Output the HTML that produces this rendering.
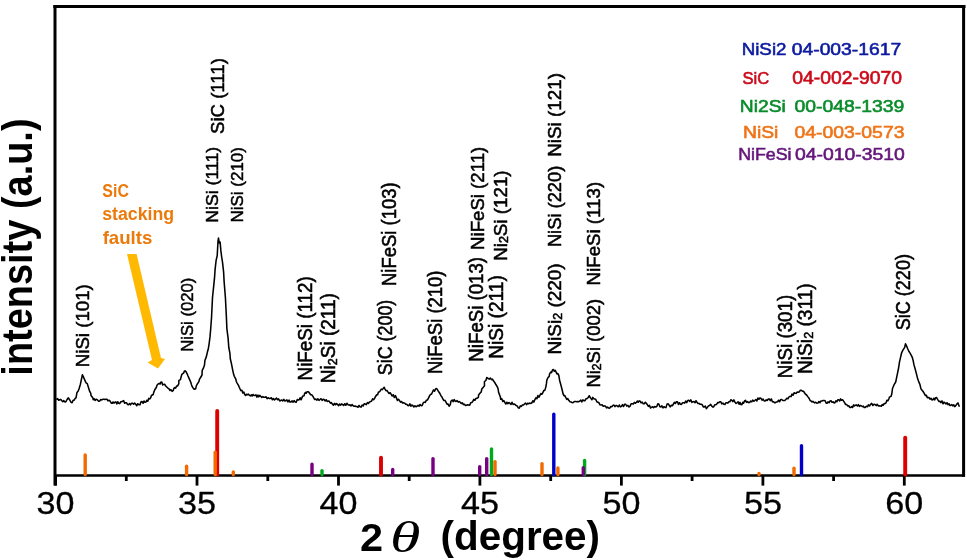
<!DOCTYPE html>
<html><head><meta charset="utf-8"><style>html,body{margin:0;padding:0;background:#fff;}
body{width:967px;height:560px;overflow:hidden;position:relative;}
svg{position:absolute;left:0;top:0;display:block;will-change:transform;}
text{font-family:"Liberation Sans",sans-serif;}
.tl{font-size:30.5px;fill:#000;stroke:#000;stroke-width:0.3px;}
.lb{font-size:17.5px;fill:#000;stroke:#000;stroke-width:0.5px;}
.lg{font-size:17.5px;stroke-width:0.6px;}
.yl{font-size:38px;font-weight:bold;fill:#000;}
.xl{font-size:39px;font-weight:bold;fill:#000;}
.th{font-family:"Liberation Serif",serif;font-style:italic;font-size:42px;fill:#000;}
.sf{font-size:18.3px;font-weight:bold;fill:#eb7a0a;}
</style></head><body>
<svg width="967" height="560" viewBox="0 0 967 560">
<!-- frame -->
<line x1="53.3" y1="6.5" x2="965.5" y2="6.5" stroke="#000" stroke-width="3"/>
<line x1="55" y1="5" x2="55" y2="485.6" stroke="#000" stroke-width="3"/>
<line x1="963.6" y1="5" x2="963.6" y2="476.8" stroke="#000" stroke-width="3"/>
<line x1="55" y1="475.5" x2="965" y2="475.5" stroke="#000" stroke-width="2.6"/>
<line x1="55.6" y1="475" x2="55.6" y2="485.6" stroke="#000" stroke-width="2.8"/>
<line x1="197.0" y1="475" x2="197.0" y2="485.6" stroke="#000" stroke-width="2.8"/>
<line x1="338.5" y1="475" x2="338.5" y2="485.6" stroke="#000" stroke-width="2.8"/>
<line x1="479.9" y1="475" x2="479.9" y2="485.6" stroke="#000" stroke-width="2.8"/>
<line x1="621.4" y1="475" x2="621.4" y2="485.6" stroke="#000" stroke-width="2.8"/>
<line x1="762.9" y1="475" x2="762.9" y2="485.6" stroke="#000" stroke-width="2.8"/>
<line x1="904.3" y1="475" x2="904.3" y2="485.6" stroke="#000" stroke-width="2.8"/>
<line x1="126.3" y1="475" x2="126.3" y2="481" stroke="#000" stroke-width="2.8"/>
<line x1="267.8" y1="475" x2="267.8" y2="481" stroke="#000" stroke-width="2.8"/>
<line x1="409.2" y1="475" x2="409.2" y2="481" stroke="#000" stroke-width="2.8"/>
<line x1="550.7" y1="475" x2="550.7" y2="481" stroke="#000" stroke-width="2.8"/>
<line x1="692.1" y1="475" x2="692.1" y2="481" stroke="#000" stroke-width="2.8"/>
<line x1="833.6" y1="475" x2="833.6" y2="481" stroke="#000" stroke-width="2.8"/>
<line x1="85.2" y1="474.5" x2="85.2" y2="455.0" stroke="#f26a00" stroke-width="3.4" stroke-linecap="round"/>
<line x1="186.6" y1="474.5" x2="186.6" y2="466.3" stroke="#f26a00" stroke-width="3.4" stroke-linecap="round"/>
<line x1="217.2" y1="474.5" x2="217.2" y2="410.9" stroke="#dc0000" stroke-width="3.9" stroke-linecap="round"/>
<line x1="215.2" y1="474.5" x2="215.2" y2="452.3" stroke="#f26a00" stroke-width="3.4" stroke-linecap="round"/>
<line x1="233.3" y1="474.5" x2="233.3" y2="471.9" stroke="#f26a00" stroke-width="3.4" stroke-linecap="round"/>
<line x1="312.0" y1="474.5" x2="312.0" y2="464.1" stroke="#780082" stroke-width="3.4" stroke-linecap="round"/>
<line x1="322.0" y1="474.5" x2="322.0" y2="470.6" stroke="#00aa1e" stroke-width="3.4" stroke-linecap="round"/>
<line x1="381.0" y1="474.5" x2="381.0" y2="457.6" stroke="#dc0000" stroke-width="3.9" stroke-linecap="round"/>
<line x1="392.7" y1="474.5" x2="392.7" y2="469.4" stroke="#780082" stroke-width="3.4" stroke-linecap="round"/>
<line x1="433.0" y1="474.5" x2="433.0" y2="458.6" stroke="#780082" stroke-width="3.4" stroke-linecap="round"/>
<line x1="479.7" y1="474.5" x2="479.7" y2="466.6" stroke="#780082" stroke-width="3.4" stroke-linecap="round"/>
<line x1="486.7" y1="474.5" x2="486.7" y2="458.6" stroke="#780082" stroke-width="3.4" stroke-linecap="round"/>
<line x1="491.5" y1="474.5" x2="491.5" y2="449.0" stroke="#00aa1e" stroke-width="3.4" stroke-linecap="round"/>
<line x1="495.0" y1="474.5" x2="495.0" y2="461.6" stroke="#f26a00" stroke-width="3.4" stroke-linecap="round"/>
<line x1="542.0" y1="474.5" x2="542.0" y2="463.6" stroke="#f26a00" stroke-width="3.4" stroke-linecap="round"/>
<line x1="553.8" y1="474.5" x2="553.8" y2="414.2" stroke="#0000c8" stroke-width="3.4" stroke-linecap="round"/>
<line x1="557.9" y1="474.5" x2="557.9" y2="468.0" stroke="#f26a00" stroke-width="3.4" stroke-linecap="round"/>
<line x1="584.6" y1="474.5" x2="584.6" y2="460.5" stroke="#00aa1e" stroke-width="3.4" stroke-linecap="round"/>
<line x1="583.3" y1="474.5" x2="583.3" y2="467.6" stroke="#780082" stroke-width="3.4" stroke-linecap="round"/>
<line x1="759.0" y1="474.5" x2="759.0" y2="473.5" stroke="#f26a00" stroke-width="3.4" stroke-linecap="round"/>
<line x1="794.0" y1="474.5" x2="794.0" y2="468.2" stroke="#f26a00" stroke-width="3.4" stroke-linecap="round"/>
<line x1="801.5" y1="474.5" x2="801.5" y2="445.7" stroke="#0000c8" stroke-width="3.4" stroke-linecap="round"/>
<line x1="905.2" y1="474.5" x2="905.2" y2="437.6" stroke="#dc0000" stroke-width="3.9" stroke-linecap="round"/>
<polyline points="56.4,399.7 57.5,398.5 58.7,400.2 59.8,399.7 60.8,399.4 61.8,400.7 62.8,401.7 63.7,400.6 64.7,401.7 65.5,401.9 66.2,401.2 67.1,399.5 68.2,397.8 69.6,399.7 70.8,402.0 72.1,402.7 73.1,400.2 74.0,400.3 75.0,398.7 76.0,397.8 77.0,392.4 78.2,390.9 79.0,389.0 80.4,384.2 81.4,379.5 82.4,374.7 83.4,376.9 84.8,380.1 86.0,382.8 87.3,383.6 88.3,387.1 89.7,391.4 90.8,393.4 91.0,395.4 92.8,397.7 93.2,399.7 94.2,398.7 95.1,400.5 96.1,399.3 97.3,399.8 98.6,401.2 99.7,401.0 100.8,399.5 101.9,399.9 103.0,399.3 104.0,399.2 104.9,399.5 105.9,399.3 106.9,399.2 107.9,400.9 108.9,400.2 110.1,401.1 111.3,403.2 112.2,403.3 113.0,402.0 113.9,403.1 114.8,402.2 115.8,401.9 116.8,404.0 117.7,401.8 118.7,403.2 119.7,403.6 120.7,401.8 121.6,401.7 122.6,401.2 123.6,400.6 124.6,403.3 125.6,402.7 126.6,402.8 127.5,404.4 128.5,404.7 129.5,403.6 130.5,404.9 131.5,403.2 132.5,403.2 133.6,404.3 134.6,403.0 135.7,404.3 136.8,405.7 137.8,403.7 138.9,404.8 140.0,404.8 141.0,401.8 142.1,401.6 143.1,403.3 144.0,401.0 144.9,402.3 145.9,402.1 146.9,400.2 147.8,401.2 148.8,398.4 149.7,398.9 150.7,397.8 151.4,395.5 153.2,394.5 153.9,391.9 154.9,389.5 156.3,387.5 157.1,385.0 158.2,384.0 159.3,383.4 160.2,384.0 161.0,382.0 161.9,382.3 162.7,384.9 163.5,384.4 164.6,384.2 165.7,386.0 166.8,387.0 167.8,388.1 168.9,388.7 170.0,390.5 171.0,389.7 172.1,391.4 173.3,390.4 173.7,388.7 174.6,387.6 175.6,388.1 176.6,386.1 177.5,386.0 178.8,383.8 178.9,380.4 180.5,379.6 181.2,376.4 181.9,374.3 183.7,372.9 184.4,371.1 185.2,370.9 186.0,371.6 187.5,374.7 187.8,375.5 189.2,378.6 190.7,382.1 191.4,384.4 192.1,386.4 193.5,388.7 194.6,389.3 195.7,388.7 196.4,385.6 197.8,383.2 198.9,381.6 199.5,379.2 200.6,377.5 202.0,375.0 202.2,370.4 203.4,368.2 204.5,365.1 204.9,360.5 206.3,356.9 207.3,352.5 208.4,348.2 209.1,343.8 210.0,336.9 210.6,330.0 211.5,318.0 212.5,297.5 213.5,287.9 214.5,278.2 215.1,269.4 216.1,260.5 217.2,255.7 218.0,241.2 218.5,238.0 219.3,242.9 220.1,242.0 220.9,250.9 221.6,256.5 222.5,262.1 223.6,271.8 224.1,281.4 225.4,297.5 226.3,315.0 226.9,328.8 228.1,338.1 228.8,347.5 229.9,353.1 230.3,358.8 231.6,364.4 232.5,369.1 233.5,373.8 234.3,376.3 235.7,378.8 236.3,381.3 236.8,382.6 238.5,385.4 239.0,386.6 240.0,388.8 240.9,390.6 241.9,390.2 242.8,392.9 243.8,392.1 244.7,394.4 245.6,395.5 246.6,394.3 247.5,394.8 248.5,394.1 249.4,395.4 250.3,395.9 251.3,394.8 252.2,396.0 253.1,394.5 254.1,395.5 255.0,395.4 255.9,394.8 256.9,397.1 257.9,395.0 258.8,396.9 259.8,395.3 260.7,396.3 261.8,397.4 262.9,396.6 263.9,397.3 265.0,397.2 266.1,396.8 267.1,398.7 268.2,397.7 269.2,398.5 270.3,398.4 271.3,397.7 272.4,399.8 273.4,398.6 274.5,400.0 275.5,399.0 276.5,398.1 277.6,399.7 278.6,398.9 279.7,401.0 280.7,400.5 281.7,400.0 282.8,400.9 283.8,399.3 284.9,401.0 285.9,400.5 286.9,399.9 287.9,402.0 289.0,400.0 290.0,402.1 291.0,402.0 292.1,400.9 293.1,402.2 294.1,400.6 295.2,402.0 296.2,402.3 297.3,399.5 298.3,400.0 299.2,399.8 300.1,397.7 301.0,399.8 301.9,397.9 302.5,396.2 304.1,395.7 304.5,393.8 305.4,392.4 306.2,393.3 307.1,391.7 308.4,391.7 309.6,393.3 310.6,394.7 311.7,394.7 312.7,395.9 314.0,398.4 314.8,399.5 315.8,399.0 316.9,400.1 317.9,398.8 319.0,400.4 320.0,399.5 321.0,398.7 322.1,400.4 323.1,399.2 324.1,399.5 325.2,401.0 326.2,399.7 327.2,401.4 328.3,401.0 329.3,401.3 330.4,403.2 331.4,402.6 332.4,404.1 333.4,405.1 334.5,403.3 335.5,404.8 336.6,403.6 337.6,404.6 338.6,405.7 339.6,404.0 340.7,405.1 341.7,403.9 342.7,404.6 343.7,405.5 344.8,403.7 345.8,405.3 346.9,403.3 347.9,404.6 348.9,405.2 350.0,404.8 351.0,406.0 352.1,404.6 353.1,405.7 354.1,406.2 355.1,406.0 356.1,406.6 357.0,406.5 358.0,407.3 359.0,405.5 360.0,406.7 361.1,407.1 362.1,405.0 363.2,406.0 364.2,403.7 365.3,404.1 366.3,404.7 367.4,402.5 368.4,403.4 369.5,402.1 370.5,401.5 371.5,401.3 372.6,398.8 373.6,399.8 374.6,398.4 375.4,396.7 376.7,394.8 377.6,394.8 378.5,391.9 379.4,391.9 380.3,390.7 381.3,389.1 382.4,389.6 383.4,388.1 384.2,387.3 385.0,389.1 386.0,390.7 387.1,390.6 388.1,392.2 389.1,393.5 390.2,392.7 391.2,394.3 392.2,396.0 393.3,394.7 394.3,397.5 395.4,395.6 396.4,397.9 397.4,400.5 398.4,399.2 399.5,400.6 400.5,402.1 401.5,401.5 402.6,403.0 403.6,402.7 404.6,403.1 405.7,404.3 406.7,404.2 407.8,405.6 408.8,405.7 409.8,403.8 410.9,406.2 411.9,405.0 412.9,405.7 413.9,406.9 414.9,405.8 416.0,406.7 417.0,406.2 418.1,405.3 419.1,406.2 420.1,404.5 421.2,405.7 422.2,405.4 423.3,402.7 424.3,402.1 425.3,402.5 426.4,400.2 427.4,400.0 428.6,397.9 429.5,395.9 430.5,394.5 431.6,394.0 432.6,391.7 433.6,389.9 434.6,391.2 435.7,388.8 436.7,388.6 438.0,390.7 438.3,391.2 439.8,393.3 441.1,396.0 441.7,396.6 442.9,399.0 443.9,400.5 445.0,400.4 446.0,402.1 447.0,404.3 448.1,404.1 449.1,406.2 450.3,404.6 450.9,401.3 452.2,400.0 453.1,401.7 454.1,399.5 455.0,401.0 456.1,401.4 457.1,400.6 458.2,402.1 459.2,401.5 460.3,402.4 461.3,403.5 462.4,402.8 463.4,404.6 464.5,404.2 465.5,405.5 466.5,405.3 467.6,404.8 468.6,405.0 469.7,405.2 470.7,402.8 471.8,402.6 472.8,401.4 473.8,399.4 474.9,400.3 475.9,398.5 476.9,398.3 478.4,397.3 478.6,395.0 480.0,393.1 481.2,392.0 481.8,389.0 483.1,387.4 484.5,385.8 484.4,381.8 486.0,380.3 486.7,377.6 487.6,377.9 488.4,378.8 489.3,379.1 490.3,378.0 491.4,379.6 492.4,379.1 493.1,380.3 494.7,382.5 495.5,383.8 496.2,385.0 497.6,387.4 498.1,389.0 498.6,392.4 500.3,396.7 500.7,399.3 501.7,398.6 502.8,401.5 503.8,400.6 504.8,402.4 505.8,404.0 506.9,402.2 507.9,403.7 509.0,402.5 510.0,403.4 511.0,404.4 512.0,402.3 513.1,404.5 514.1,404.0 515.1,404.5 516.2,405.6 517.2,405.9 518.3,408.0 519.3,408.1 520.3,405.9 521.4,406.4 522.4,404.9 523.5,405.0 524.5,404.0 525.5,403.1 526.6,404.6 527.6,403.3 528.6,403.7 529.7,403.1 530.7,403.4 531.7,403.1 532.8,400.7 533.8,402.1 534.8,399.8 535.8,397.8 536.9,398.7 537.9,395.6 539.0,397.2 540.0,395.2 540.9,393.6 541.8,394.3 542.7,393.0 543.8,390.4 544.8,390.4 545.8,387.1 546.4,383.9 546.8,380.3 548.0,377.5 549.2,376.4 549.6,373.8 550.7,372.1 551.6,372.6 552.5,370.0 553.4,369.5 554.3,371.3 555.2,370.3 556.1,372.1 557.0,373.9 557.9,373.6 558.8,375.4 559.6,380.2 560.9,385.0 562.0,389.3 563.0,393.6 563.9,395.7 564.8,395.6 565.7,397.3 566.8,399.5 567.8,398.5 568.9,400.6 570.0,401.8 571.1,402.0 572.2,402.7 573.3,402.5 574.3,401.5 575.4,401.6 576.5,401.8 577.5,401.5 578.6,401.7 579.7,401.1 580.8,400.1 581.8,402.0 582.9,399.9 583.9,400.6 585.0,400.6 586.1,398.7 587.2,398.4 588.2,397.5 589.3,395.7 589.9,397.0 590.9,398.4 591.9,399.7 592.8,397.4 593.8,398.7 594.7,398.9 595.8,399.5 596.8,401.7 597.9,402.2 599.0,402.8 600.0,404.8 601.1,405.0 602.1,404.8 603.2,406.2 604.3,405.9 605.4,406.1 606.5,407.9 607.5,407.1 608.6,408.1 609.7,408.2 610.8,406.5 611.8,406.7 612.9,405.4 614.0,405.1 615.0,406.6 616.1,405.4 617.2,405.9 618.3,406.8 619.4,405.0 620.4,406.9 621.5,406.4 622.5,404.6 623.6,406.5 624.7,404.2 625.7,404.3 626.8,406.1 627.9,405.4 629.0,407.0 630.1,406.1 631.1,403.8 632.2,403.8 633.3,404.0 634.4,402.3 635.4,403.3 636.5,402.2 637.4,401.1 638.2,402.3 639.1,400.9 640.0,401.1 641.1,402.9 642.2,402.1 643.3,403.8 644.3,403.8 645.3,402.2 646.3,403.3 647.4,404.8 648.4,406.4 649.5,405.3 650.5,408.0 651.5,407.4 652.5,406.7 653.6,407.6 654.7,406.6 655.7,406.9 656.8,406.5 657.8,403.8 658.8,403.9 659.9,406.8 660.9,406.9 661.9,405.9 663.0,407.9 664.0,406.7 665.0,407.4 666.0,407.6 667.1,403.9 668.1,403.8 669.2,405.3 670.2,406.9 671.2,405.3 672.3,405.8 673.3,404.3 674.3,402.4 675.4,403.5 676.4,401.7 677.4,401.8 678.5,404.4 679.5,402.7 680.5,404.3 681.5,404.4 682.6,402.7 683.6,402.8 684.6,403.1 685.7,401.0 686.7,402.6 687.8,400.5 688.8,400.2 689.8,401.4 690.8,399.8 691.9,402.4 692.9,401.7 693.9,401.6 695.0,402.8 696.0,400.7 697.0,402.2 698.0,403.4 699.1,403.4 700.2,404.3 701.2,404.3 702.2,404.7 703.3,406.9 704.3,406.9 705.3,406.0 706.4,408.6 707.4,407.4 708.4,405.9 709.5,405.6 710.5,404.3 711.5,405.8 712.6,406.9 713.6,407.0 714.7,404.8 715.7,404.8 716.7,404.2 717.8,402.5 718.8,402.8 719.8,401.7 720.8,401.8 721.8,403.9 722.9,403.1 723.9,404.3 724.9,404.5 726.0,402.7 727.0,402.8 727.9,403.1 728.9,401.7 729.8,401.8 730.8,399.8 731.7,400.2 732.8,401.6 733.9,399.9 735.0,402.3 736.1,403.5 737.2,402.6 738.1,401.8 739.1,404.3 740.0,402.4 741.0,404.8 741.9,404.6 742.8,402.3 743.6,403.2 744.5,401.0 745.5,400.3 746.5,402.4 747.6,401.6 748.6,402.6 749.6,402.5 750.7,401.0 751.7,401.8 752.7,400.1 753.8,401.3 754.8,400.5 755.8,399.6 756.9,401.0 757.9,398.1 758.9,399.3 760.0,397.9 761.0,398.4 762.0,400.2 763.1,399.0 764.2,401.0 765.2,401.0 766.2,399.8 767.2,400.5 768.3,399.0 769.3,399.0 770.3,400.7 771.4,399.0 772.4,401.7 773.4,401.7 774.5,402.6 775.5,402.6 776.5,401.9 777.6,401.7 778.6,400.2 779.7,401.7 780.7,399.5 781.7,399.5 782.8,400.5 783.8,400.5 784.8,400.5 785.8,399.5 786.9,398.2 787.9,398.8 789.0,396.9 790.0,396.4 791.0,396.6 792.0,394.1 793.1,395.3 794.1,392.7 795.1,393.3 796.2,393.4 797.2,392.0 798.3,392.2 799.3,391.8 800.4,390.2 801.4,390.2 802.4,391.3 803.5,391.3 804.5,392.8 805.5,394.2 806.6,395.0 807.6,396.4 809.2,398.5 810.1,400.5 811.0,400.9 812.0,402.0 812.9,401.3 813.8,402.1 814.8,402.9 815.8,402.2 816.9,403.2 817.9,403.1 818.9,401.5 820.0,402.6 821.0,401.0 822.0,401.0 823.1,400.5 824.1,400.5 825.1,400.7 826.2,403.1 827.2,403.1 828.1,401.8 829.1,402.8 830.0,401.0 831.0,400.7 832.0,402.3 833.1,401.9 834.1,402.9 835.0,402.7 835.9,400.8 836.9,401.8 837.8,399.7 838.7,399.8 839.7,401.0 840.6,398.9 841.5,400.3 842.5,399.8 843.4,400.8 844.9,403.1 845.5,404.4 846.6,404.4 847.6,405.9 848.7,405.7 849.7,407.4 850.8,407.4 851.7,406.5 852.6,407.5 853.6,404.9 854.5,406.0 855.4,405.2 856.4,404.9 857.4,406.0 858.4,404.6 859.4,406.4 860.4,405.5 861.4,405.9 862.4,406.6 863.3,406.1 864.2,407.5 865.2,407.4 866.3,406.3 867.4,406.8 868.4,404.8 869.5,406.0 870.6,404.4 871.7,403.4 872.9,405.5 874.0,404.2 875.1,404.4 876.2,405.6 877.2,404.3 878.3,405.9 879.3,405.8 880.4,405.9 881.3,406.3 882.2,404.5 883.2,405.3 884.1,403.6 885.0,403.6 886.0,402.9 886.9,400.2 887.8,400.8 888.8,399.1 889.4,397.1 891.1,396.2 891.8,393.8 892.5,388.5 894.1,384.7 895.7,382.0 896.4,378.6 897.5,373.3 898.6,368.0 899.5,361.9 900.9,355.8 901.8,352.3 903.2,349.7 904.7,347.3 905.5,343.7 906.5,345.9 907.8,349.0 909.0,351.5 909.6,352.4 910.8,354.3 912.4,357.7 913.1,360.4 914.0,364.9 915.3,369.5 916.7,374.9 917.6,378.6 918.5,381.1 919.9,384.4 920.7,387.7 921.2,389.2 922.7,391.0 923.4,392.0 924.5,393.8 925.4,395.6 926.4,395.3 927.3,397.6 928.2,397.6 929.1,397.6 930.0,399.2 931.0,398.2 931.9,400.0 932.8,399.8 933.8,398.2 934.7,399.9 935.6,397.7 936.6,397.6 937.9,399.9 938.9,401.4 939.9,401.2 940.9,402.6 942.0,400.9 943.0,403.8 944.0,402.1 945.0,402.9 946.0,404.0 947.0,402.7 948.0,404.7 949.0,403.7 950.0,405.5 951.0,405.2 951.9,404.6 952.8,405.9 953.8,404.9 954.7,406.6 955.6,405.9 956.8,404.1 957.9,402.9 958.8,405.2 959.4,406.7" fill="none" stroke="#000" stroke-width="1.55" stroke-linejoin="round"/>
<polygon points="127,254 136.6,254 161,358 165,359 158,368.5 147.6,362.4 152,360 " fill="#ffb900"/>
<text x="0.0" y="514.3" text-anchor="middle" class="tl" transform="translate(55.6 0) scale(1.12 1) translate(0.0 0)">30</text>
<text x="0.0" y="514.3" text-anchor="middle" class="tl" transform="translate(197.0 0) scale(1.12 1) translate(0.0 0)">35</text>
<text x="0.0" y="514.3" text-anchor="middle" class="tl" transform="translate(338.5 0) scale(1.12 1) translate(0.0 0)">40</text>
<text x="0.0" y="514.3" text-anchor="middle" class="tl" transform="translate(479.9 0) scale(1.12 1) translate(0.0 0)">45</text>
<text x="0.0" y="514.3" text-anchor="middle" class="tl" transform="translate(621.4 0) scale(1.12 1) translate(0.0 0)">50</text>
<text x="0.0" y="514.3" text-anchor="middle" class="tl" transform="translate(762.9 0) scale(1.12 1) translate(0.0 0)">55</text>
<text x="0.0" y="514.3" text-anchor="middle" class="tl" transform="translate(904.3 0) scale(1.12 1) translate(0.0 0)">60</text>
<text class="lb" transform="translate(88.94 367.23) scale(1.0400 1) rotate(-90) scale(1.0680 1)">NiSi (101)</text>
<text class="lb" transform="translate(193.16 351.79) scale(0.9760 1) rotate(-90) scale(0.9531 1)">NiSi (020)</text>
<text class="lb" transform="translate(218.46 222.66) scale(0.9760 1) rotate(-90) scale(1.0082 1)">NiSi (111)</text>
<text class="lb" transform="translate(242.86 222.61) scale(0.9760 1) rotate(-90) scale(0.9716 1)">NiSi (210)</text>
<text class="lb" transform="translate(224.45 134.03) scale(1.1000 1) rotate(-90) scale(1.0643 1)">SiC (111)</text>
<text class="lb" transform="translate(312.22 380.44) scale(1.1280 1) rotate(-90) scale(1.0755 1)">NiFeSi (112)</text>
<text class="lb" transform="translate(335.36 383.26) scale(1.1560 1) rotate(-90) scale(1.0885 1)">Ni<tspan font-size="11.55" dy="1">2</tspan><tspan dy="-1">Si (211)</tspan></text>
<text class="lb" transform="translate(391.93 375.21) scale(1.1308 1) rotate(-90) scale(1.0221 1)">SiC (200)</text>
<text class="lb" transform="translate(396.32 286.02) scale(1.1280 1) rotate(-90) scale(1.0552 1)">NiFeSi (103)</text>
<text class="lb" transform="translate(441.92 374.12) scale(1.1280 1) rotate(-90) scale(1.0552 1)">NiFeSi (210)</text>
<text class="lb" transform="translate(483.22 361.63) scale(1.1040 1) rotate(-90) scale(1.0667 1)">NiFeSi (013)</text>
<text class="lb" transform="translate(483.63 249.93) scale(1.0640 1) rotate(-90) scale(1.0649 1)">NiFeSi (211)</text>
<text class="lb" transform="translate(502.87 358.87) scale(1.1040 1) rotate(-90) scale(1.0940 1)">NiSi (211)</text>
<text class="lb" transform="translate(507.33 260.84) scale(1.0880 1) rotate(-90) scale(1.0744 1)">Ni<tspan font-size="11.55" dy="1">2</tspan><tspan dy="-1">Si (121)</tspan></text>
<text class="lb" transform="translate(561.13 354.55) scale(1.0640 1) rotate(-90) scale(1.0829 1)">NiSi<tspan font-size="11.55" dy="1">2</tspan><tspan dy="-1"> (220)</tspan></text>
<text class="lb" transform="translate(561.13 247.11) scale(1.0640 1) rotate(-90) scale(1.0469 1)">NiSi (220)</text>
<text class="lb" transform="translate(561.13 156.75) scale(1.0640 1) rotate(-90) scale(1.0772 1)">NiSi (121)</text>
<text class="lb" transform="translate(599.53 387.62) scale(1.0640 1) rotate(-90) scale(1.0549 1)">Ni<tspan font-size="11.55" dy="1">2</tspan><tspan dy="-1">Si (002)</tspan></text>
<text class="lb" transform="translate(600.13 285.44) scale(1.0640 1) rotate(-90) scale(1.0691 1)">NiFeSi (113)</text>
<text class="lb" transform="translate(792.02 378.24) scale(1.1040 1) rotate(-90) scale(1.0733 1)">NiSi (301)</text>
<text class="lb" transform="translate(812.32 373.97) scale(1.1040 1) rotate(-90) scale(1.0947 1)">NiSi<tspan font-size="11.55" dy="1">2</tspan><tspan dy="-1"> (311)</tspan></text>
<text class="lb" transform="translate(910.09 330.22) scale(1.1115 1) rotate(-90) scale(1.0303 1)">SiC (220)</text>
<g transform="translate(741.66 55.13) scale(1.0725 0.9333)"><text class="lg" fill="#0c1a9e" stroke="#0c1a9e">NiSi2</text></g>
<g transform="translate(791.75 55.12) scale(1.1033 0.9692)"><text class="lg" fill="#0c1a9e" stroke="#0c1a9e">04-003-1617</text></g>
<g transform="translate(742.53 84.30) scale(0.9468 0.9926)"><text class="lg" fill="#cc0a1a" stroke="#cc0a1a">SiC</text></g>
<g transform="translate(792.35 84.10) scale(1.1053 1.0000)"><text class="lg" fill="#cc0a1a" stroke="#cc0a1a">04-002-9070</text></g>
<g transform="translate(739.87 111.73) scale(1.1006 0.9333)"><text class="lg" fill="#0a8c2c" stroke="#0a8c2c">Ni2Si</text></g>
<g transform="translate(794.45 111.72) scale(1.1069 0.9692)"><text class="lg" fill="#0a8c2c" stroke="#0a8c2c">00-048-1339</text></g>
<g transform="translate(743.02 137.73) scale(1.1033 0.9333)"><text class="lg" fill="#ef7418" stroke="#ef7418">NiSi</text></g>
<g transform="translate(794.45 137.72) scale(1.1094 0.9692)"><text class="lg" fill="#ef7418" stroke="#ef7418">04-003-0573</text></g>
<g transform="translate(738.13 159.53) scale(1.0189 0.9333)"><text class="lg" fill="#64167a" stroke="#64167a">NiFeSi</text></g>
<g transform="translate(795.05 159.52) scale(1.1074 0.9692)"><text class="lg" fill="#64167a" stroke="#64167a">04-010-3510</text></g>
<g transform="translate(102.36 196.55) scale(0.8712 1.0000)"><text class="sf">SiC</text></g>
<g transform="translate(102.17 219.50) scale(0.9702 1.0000)"><text class="sf">stacking</text></g>
<g transform="translate(102.65 243.65) scale(1.0199 1.0000)"><text class="sf">faults</text></g>
<g transform="translate(32.16 375.65) scale(1.1296 0.9988)"><text class="yl" transform="rotate(-90)">intensity (a.u.)</text></g>
<g transform="translate(360.07 550.70) scale(1.0632 1.0128)"><text class="xl">2</text></g>
<g transform="translate(390.05 552.17) scale(1.4761 1.0655)"><text class="th">&#952;</text></g>
<g transform="translate(440.53 550.15) scale(1.0373 1.0247)"><text class="xl">(degree)</text></g>
</svg>
</body></html>
